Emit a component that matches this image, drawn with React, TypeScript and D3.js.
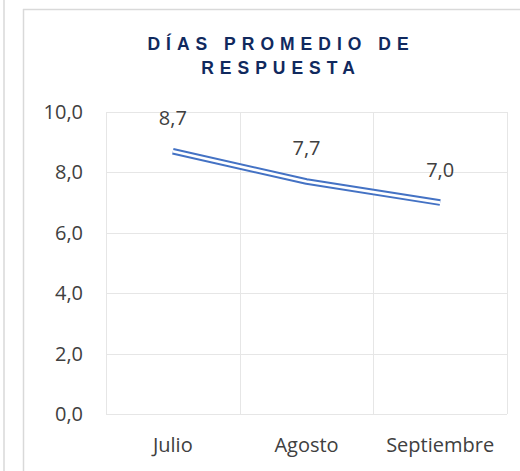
import { useRef, useEffect } from 'react';
import * as d3 from 'd3';

var W = 520;
var H = 471;

var MONTHS = ['Julio', 'Agosto', 'Septiembre'];
var DAYS = [8.7, 7.7, 7.0];
var Y_TICKS = [0, 2, 4, 6, 8, 10];
var TITLE_LINES = ['DÍAS PROMEDIO DE', 'RESPUESTA'];

var LINE_COLOR = '#4472C4';
var GRID_COLOR = '#E6E6E6';
var TEXT_COLOR = '#404040';
var FONT = '"Open Sans", "Noto Sans", sans-serif';
var FS = 20;

function fmt(v: number) {
  return v.toFixed(1).replace('.', ',');
}

export default function App() {
  var svgRef = useRef<SVGSVGElement | null>(null);

  useEffect(function () {
    var svg = d3.select(svgRef.current);
    svg.selectAll('*').remove();

    var margin = { top: 112, right: 13, bottom: 57, left: 106 };
    var innerW = W - margin.left - margin.right;
    var innerH = H - margin.top - margin.bottom;

    // outer frames
    svg.append('line').attr('x1', 4).attr('x2', 4).attr('y1', 0).attr('y2', H)
      .attr('stroke', '#D9D9D9').attr('stroke-width', 1.5);
    svg.append('line').attr('x1', 23.5).attr('x2', 23.5).attr('y1', 9).attr('y2', H)
      .attr('stroke', '#D9D9D9').attr('stroke-width', 1.5);
    svg.append('line').attr('x1', 23).attr('x2', W).attr('y1', 9.5).attr('y2', 9.5)
      .attr('stroke', '#D9D9D9').attr('stroke-width', 1.5);

    // title
    var ls = 6;
    var title = svg.append('text')
      .attr('text-anchor', 'middle')
      .attr('font-family', 'Arial, "Liberation Sans", sans-serif')
      .attr('font-weight', 'bold')
      .attr('font-size', 17.5)
      .attr('letter-spacing', ls)
      .attr('fill', '#10295E');
    TITLE_LINES.forEach(function (t, i) {
      title.append('tspan').attr('x', 278 + ls / 2).attr('y', 50 + i * 24).text(t);
    });

    var g = svg.append('g').attr('transform', 'translate(' + margin.left + ',' + margin.top + ')');

    var x = d3.scaleBand().domain(MONTHS).range([0, innerW]).padding(0);
    var y = d3.scaleLinear().domain([0, 10]).range([innerH, 0]);

    // horizontal grid
    g.selectAll('.hgrid').data(Y_TICKS).join('line')
      .attr('class', 'hgrid')
      .attr('x1', 0).attr('x2', innerW)
      .attr('y1', function (d) { return Math.round(y(d)) + 0.5; })
      .attr('y2', function (d) { return Math.round(y(d)) + 0.5; })
      .attr('stroke', GRID_COLOR).attr('stroke-width', 1);

    // vertical grid at band edges
    var edges = MONTHS.map(function (m) { return x(m) as number; }).concat([innerW]);
    g.selectAll('.vgrid').data(edges).join('line')
      .attr('class', 'vgrid')
      .attr('x1', function (d) { return Math.round(d) + 0.5; })
      .attr('x2', function (d) { return Math.round(d) + 0.5; })
      .attr('y1', 0).attr('y2', innerH)
      .attr('stroke', GRID_COLOR).attr('stroke-width', 1);

    // y tick labels
    g.selectAll('.ylab').data(Y_TICKS).join('text')
      .attr('class', 'ylab')
      .attr('x', -23)
      .attr('y', function (d) { return y(d); })
      .attr('dy', '0.35em')
      .attr('text-anchor', 'end')
      .attr('font-family', FONT)
      .attr('font-size', FS)
      .attr('fill', TEXT_COLOR)
      .text(function (d) { return fmt(d); });

    // x labels
    g.selectAll('.xlab').data(MONTHS).join('text')
      .attr('class', 'xlab')
      .attr('x', function (d) { return (x(d) as number) + x.bandwidth() / 2; })
      .attr('y', innerH + 38)
      .attr('text-anchor', 'middle')
      .attr('font-family', FONT)
      .attr('font-size', FS)
      .attr('fill', TEXT_COLOR)
      .text(function (d) { return d; });

    var line = d3.line<number>()
      .x(function (d, i) { return (x(MONTHS[i]) as number) + x.bandwidth() / 2; })
      .y(function (d) { return y(d); });

    // double compound line: thick blue with white core
    g.append('path').datum(DAYS)
      .attr('d', line)
      .attr('fill', 'none')
      .attr('stroke', LINE_COLOR)
      .attr('stroke-width', 6.6)
      .attr('stroke-linejoin', 'round');
    g.append('path').datum(DAYS)
      .attr('d', line)
      .attr('fill', 'none')
      .attr('stroke', '#FFFFFF')
      .attr('stroke-width', 2.6)
      .attr('stroke-linejoin', 'round');

    // data labels
    g.selectAll('.dlab').data(DAYS).join('text')
      .attr('class', 'dlab')
      .attr('x', function (d, i) { return (x(MONTHS[i]) as number) + x.bandwidth() / 2; })
      .attr('y', function (d) { return y(d) - 26; })
      .attr('text-anchor', 'middle')
      .attr('font-family', FONT)
      .attr('font-size', FS)
      .attr('fill', TEXT_COLOR)
      .text(function (d) { return fmt(d); });
  }, []);

  return (
    <svg
      ref={svgRef}
      width={W}
      height={H}
      style={{ position: 'absolute', left: 0, top: 0, background: '#fff' }}
    />
  );
}
